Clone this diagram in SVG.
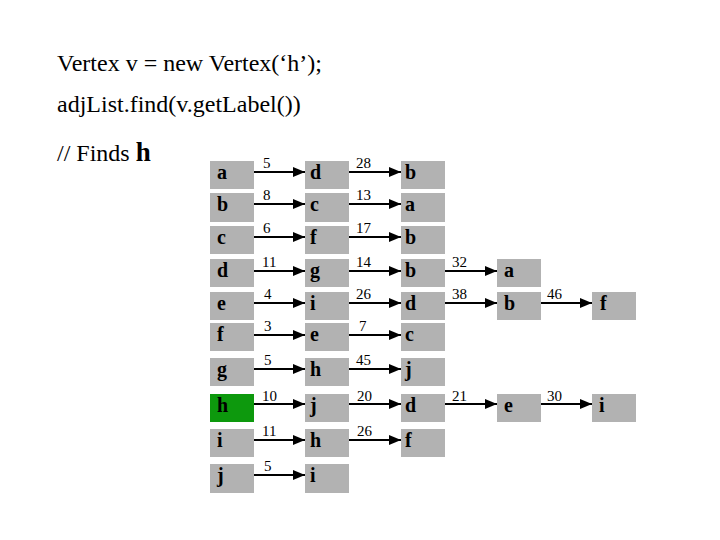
<svg xmlns="http://www.w3.org/2000/svg" width="720" height="540" viewBox="0 0 720 540">
<defs>
<style>
.bx{fill:#b2b2b2}
.gr{fill:#0d990d}
.lb{font-family:"Liberation Serif","Times New Roman",serif;font-weight:bold;font-size:20px;fill:#000}
.nm{font-family:"Liberation Serif","Times New Roman",serif;font-size:15px;fill:#000}
.hd{font-family:"Liberation Serif","Times New Roman",serif;font-size:24px;fill:#000}
.ar{stroke:#000;stroke-width:2;fill:none;marker-end:url(#ah)}
</style>
<marker id="ah" markerUnits="userSpaceOnUse" markerWidth="12" markerHeight="10" refX="12" refY="5" orient="auto">
<path d="M0,0 L12,5 L0,10 z" fill="#000"/>
</marker>
</defs>
<rect width="720" height="540" fill="#fff"/>
<g id="header">
<text class="hd" x="57" y="71">Vertex v = new Vertex(‘h’);</text>
<text class="hd" x="57" y="112">adjList.find(v.getLabel())</text>
<text class="hd" x="57" y="161" font-size="22">// Finds <tspan font-weight="bold" font-size="27">h</tspan></text>
</g>
<g id="connectors">
<line class="ar" x1="253" y1="172" x2="305" y2="172"/><text class="nm" x="263" y="168">5</text>
<line class="ar" x1="349" y1="172" x2="401" y2="172"/><text class="nm" x="356" y="168">28</text>
<line class="ar" x1="253" y1="204" x2="305" y2="204"/><text class="nm" x="263" y="200">8</text>
<line class="ar" x1="349" y1="204" x2="401" y2="204"/><text class="nm" x="356" y="200">13</text>
<line class="ar" x1="253" y1="237" x2="305" y2="237"/><text class="nm" x="263" y="233">6</text>
<line class="ar" x1="349" y1="237" x2="401" y2="237"/><text class="nm" x="356" y="233">17</text>
<line class="ar" x1="253" y1="271" x2="305" y2="271"/><text class="nm" x="262" y="267">11</text>
<line class="ar" x1="349" y1="271" x2="401" y2="271"/><text class="nm" x="356" y="267">14</text>
<line class="ar" x1="445" y1="271" x2="497" y2="271"/><text class="nm" x="452" y="267">32</text>
<line class="ar" x1="253" y1="303" x2="305" y2="303"/><text class="nm" x="264" y="299">4</text>
<line class="ar" x1="349" y1="303" x2="401" y2="303"/><text class="nm" x="356" y="299">26</text>
<line class="ar" x1="445" y1="303" x2="497" y2="303"/><text class="nm" x="452" y="299">38</text>
<line class="ar" x1="541" y1="303" x2="592" y2="303"/><text class="nm" x="547" y="299">46</text>
<line class="ar" x1="253" y1="335" x2="305" y2="335"/><text class="nm" x="264" y="331">3</text>
<line class="ar" x1="349" y1="335" x2="401" y2="335"/><text class="nm" x="359" y="331">7</text>
<line class="ar" x1="253" y1="369" x2="305" y2="369"/><text class="nm" x="264" y="365">5</text>
<line class="ar" x1="349" y1="369" x2="401" y2="369"/><text class="nm" x="356" y="365">45</text>
<line class="ar" x1="253" y1="404" x2="305" y2="404"/><text class="nm" x="262" y="401">10</text>
<line class="ar" x1="349" y1="404" x2="401" y2="404"/><text class="nm" x="357" y="401">20</text>
<line class="ar" x1="445" y1="404" x2="497" y2="404"/><text class="nm" x="452" y="401">21</text>
<line class="ar" x1="541" y1="404" x2="592" y2="404"/><text class="nm" x="547" y="401">30</text>
<line class="ar" x1="253" y1="440" x2="305" y2="440"/><text class="nm" x="262" y="436">11</text>
<line class="ar" x1="349" y1="440" x2="401" y2="440"/><text class="nm" x="357" y="436">26</text>
<line class="ar" x1="253" y1="475" x2="305" y2="475"/><text class="nm" x="264" y="471">5</text>
</g>
<g id="row-a">
<rect class="bx" x="210" y="161" width="44" height="28"/><text class="lb" x="217" y="179">a</text>
<rect class="bx" x="305" y="161" width="44" height="28"/><text class="lb" x="310" y="179">d</text>
<rect class="bx" x="401" y="161" width="44" height="28"/><text class="lb" x="405" y="179">b</text>
</g>
<g id="row-b">
<rect class="bx" x="210" y="193" width="44" height="29"/><text class="lb" x="217" y="211">b</text>
<rect class="bx" x="305" y="193" width="44" height="29"/><text class="lb" x="310" y="211">c</text>
<rect class="bx" x="401" y="193" width="44" height="29"/><text class="lb" x="405" y="211">a</text>
</g>
<g id="row-c">
<rect class="bx" x="210" y="226" width="44" height="28"/><text class="lb" x="217" y="244">c</text>
<rect class="bx" x="305" y="226" width="44" height="28"/><text class="lb" x="310" y="244">f</text>
<rect class="bx" x="401" y="226" width="44" height="28"/><text class="lb" x="405" y="244">b</text>
</g>
<g id="row-d">
<rect class="bx" x="210" y="259" width="44" height="28"/><text class="lb" x="217" y="277">d</text>
<rect class="bx" x="305" y="259" width="44" height="28"/><text class="lb" x="310" y="277">g</text>
<rect class="bx" x="401" y="259" width="44" height="28"/><text class="lb" x="405" y="277">b</text>
<rect class="bx" x="497" y="259" width="44" height="28"/><text class="lb" x="504" y="277">a</text>
</g>
<g id="row-e">
<rect class="bx" x="210" y="292" width="44" height="28"/><text class="lb" x="217" y="310">e</text>
<rect class="bx" x="305" y="292" width="44" height="28"/><text class="lb" x="310" y="310">i</text>
<rect class="bx" x="401" y="292" width="44" height="28"/><text class="lb" x="405" y="310">d</text>
<rect class="bx" x="497" y="292" width="44" height="28"/><text class="lb" x="504" y="310">b</text>
<rect class="bx" x="592" y="292" width="44" height="28"/><text class="lb" x="600" y="310">f</text>
</g>
<g id="row-f">
<rect class="bx" x="210" y="323" width="44" height="28"/><text class="lb" x="217" y="341">f</text>
<rect class="bx" x="305" y="323" width="44" height="28"/><text class="lb" x="310" y="341">e</text>
<rect class="bx" x="401" y="323" width="44" height="28"/><text class="lb" x="405" y="341">c</text>
</g>
<g id="row-g">
<rect class="bx" x="210" y="358" width="44" height="28"/><text class="lb" x="217" y="376">g</text>
<rect class="bx" x="305" y="358" width="44" height="28"/><text class="lb" x="310" y="376">h</text>
<rect class="bx" x="401" y="358" width="44" height="28"/><text class="lb" x="405" y="376">j</text>
</g>
<g id="row-h">
<rect class="gr" x="210" y="394" width="44" height="28"/><text class="lb" x="217" y="412">h</text>
<rect class="bx" x="305" y="394" width="44" height="28"/><text class="lb" x="310" y="412">j</text>
<rect class="bx" x="401" y="394" width="44" height="28"/><text class="lb" x="405" y="412">d</text>
<rect class="bx" x="497" y="394" width="44" height="28"/><text class="lb" x="504" y="412">e</text>
<rect class="bx" x="592" y="394" width="44" height="28"/><text class="lb" x="599" y="412">i</text>
</g>
<g id="row-i">
<rect class="bx" x="210" y="429" width="44" height="28"/><text class="lb" x="217" y="447">i</text>
<rect class="bx" x="305" y="429" width="44" height="28"/><text class="lb" x="310" y="447">h</text>
<rect class="bx" x="401" y="429" width="44" height="28"/><text class="lb" x="405" y="447">f</text>
</g>
<g id="row-j">
<rect class="bx" x="210" y="464" width="44" height="29"/><text class="lb" x="217" y="482">j</text>
<rect class="bx" x="305" y="464" width="44" height="29"/><text class="lb" x="310" y="482">i</text>
</g>
</svg>
